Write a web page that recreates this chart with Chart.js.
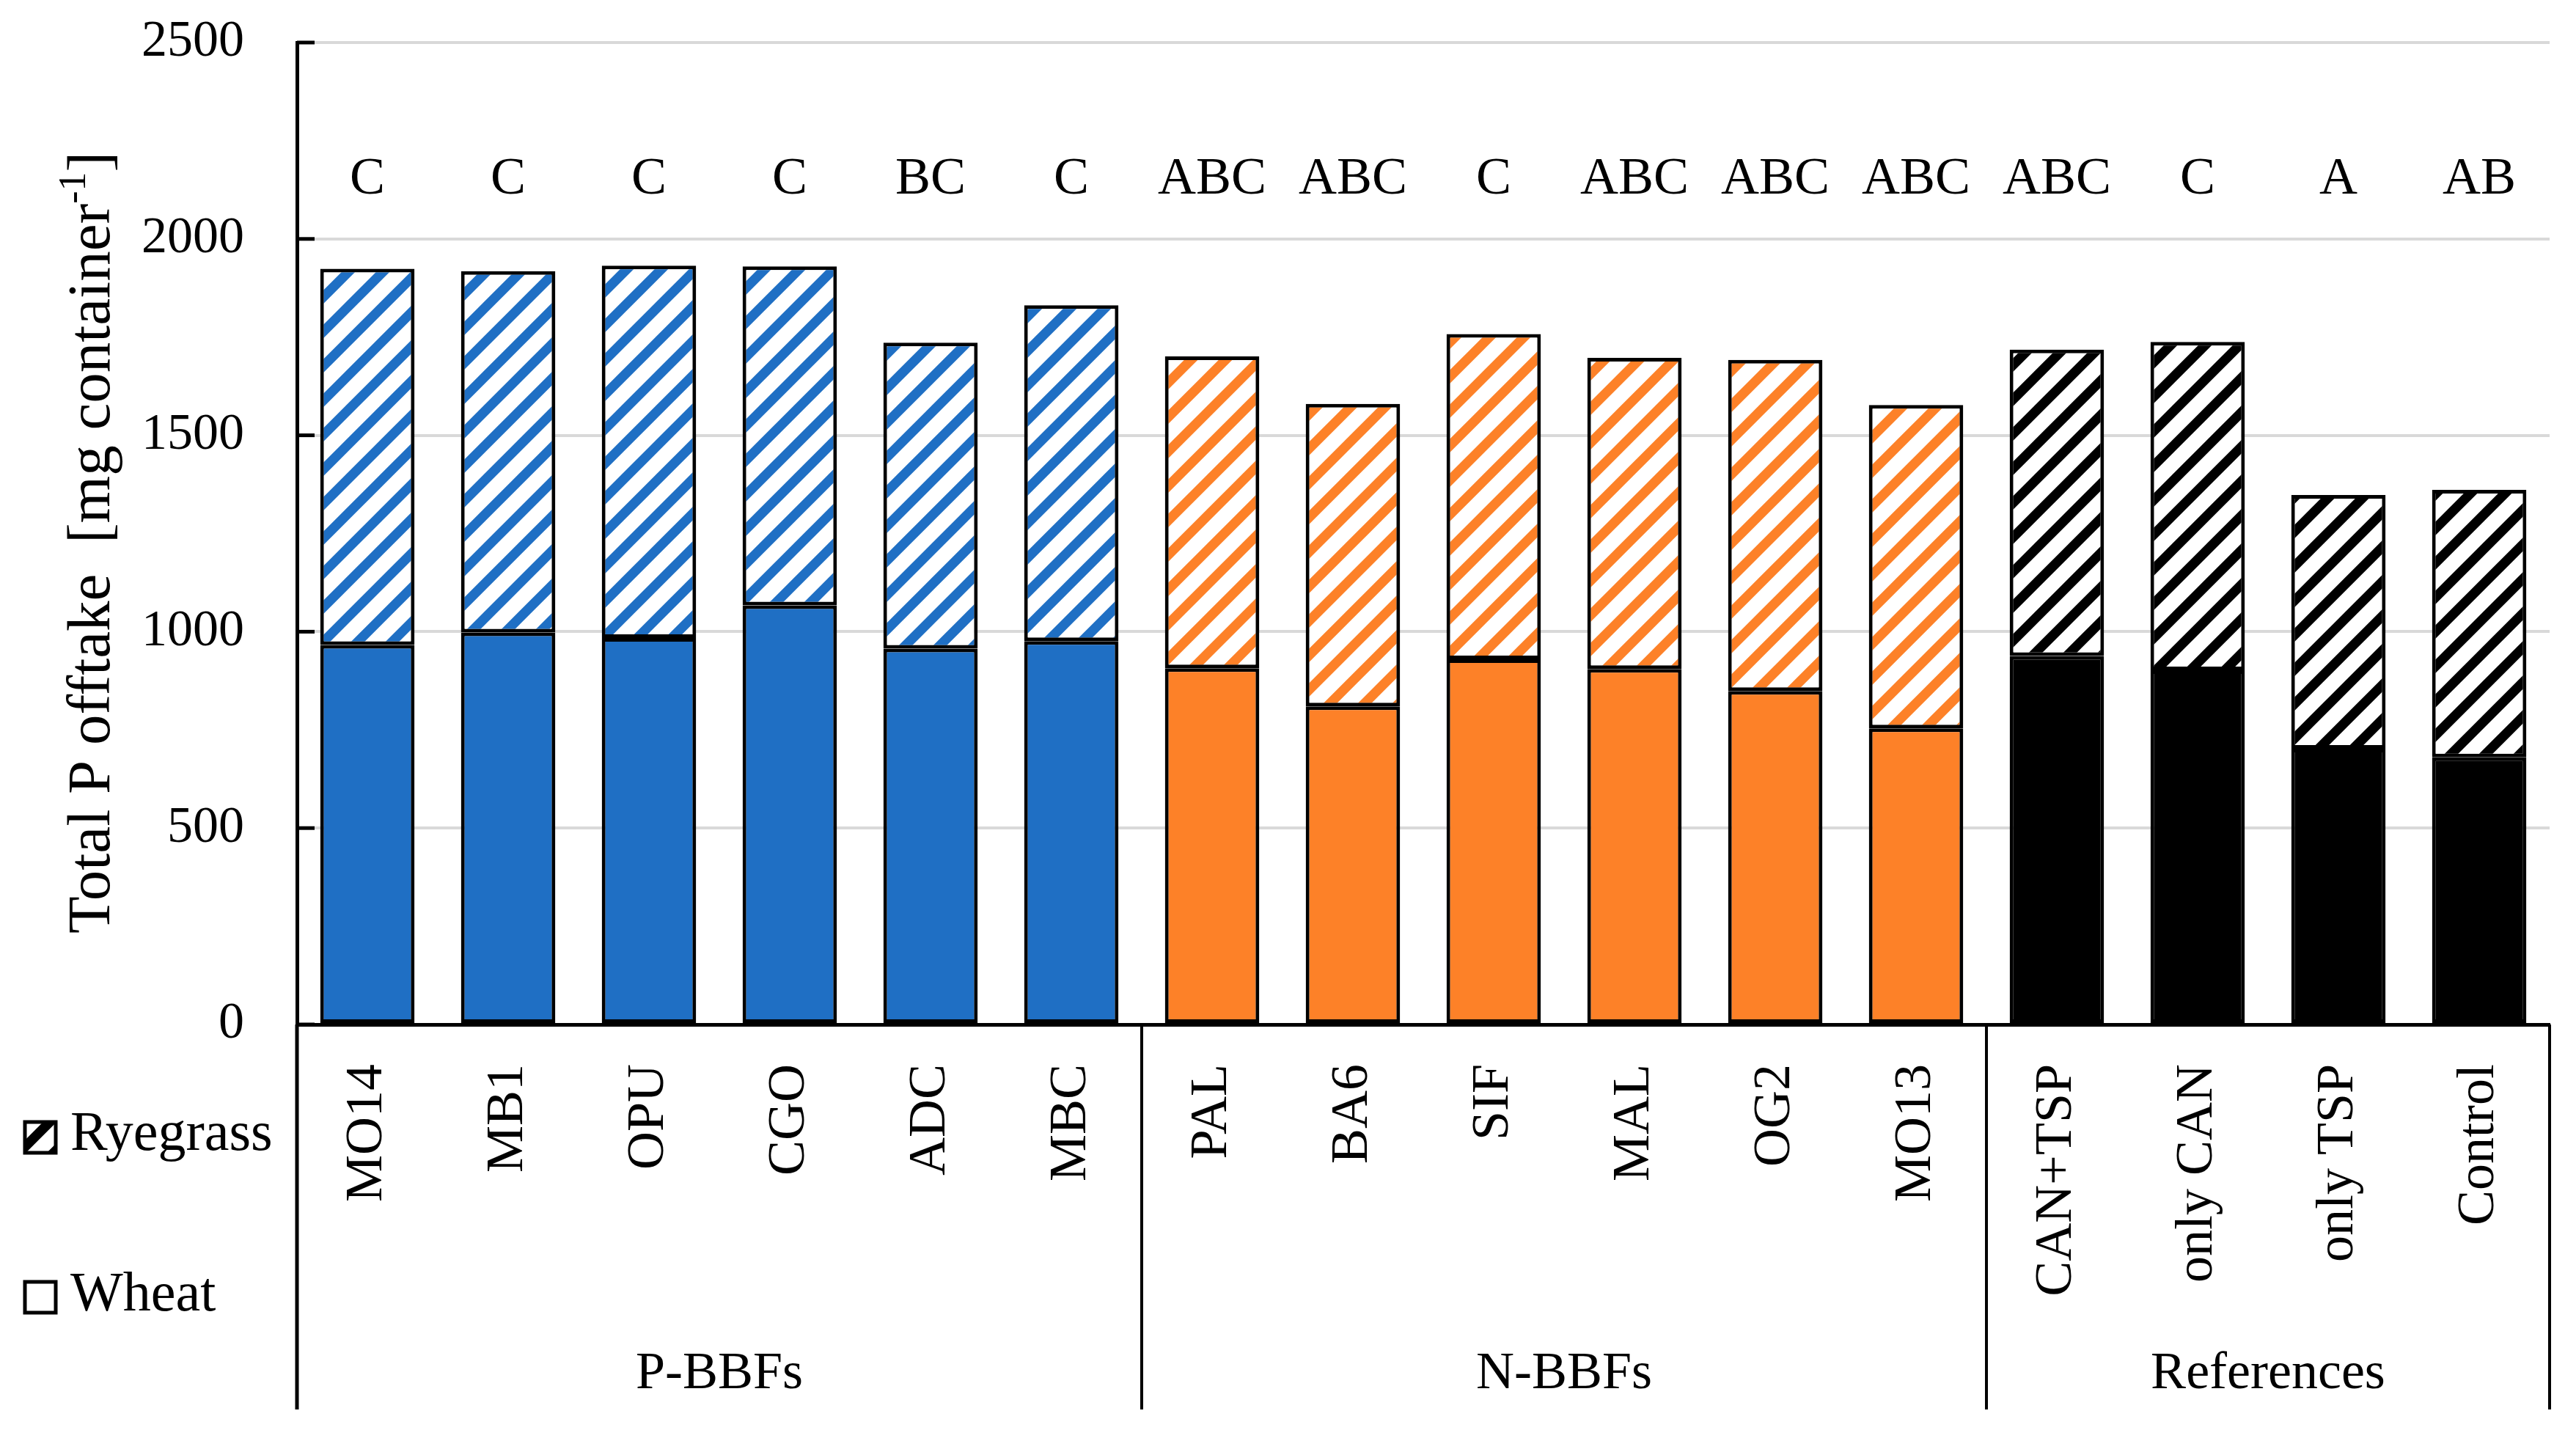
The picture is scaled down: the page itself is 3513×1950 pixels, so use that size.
<!DOCTYPE html>
<html>
<head>
<meta charset="utf-8">
<script src="https://cdn.jsdelivr.net/npm/chart.js@4.4.1/dist/chart.umd.min.js"></script>
<style>
  body { margin: 0; background: #fff; }
  #wrap { width: 3513px; height: 1950px; }
</style>
</head>
<body>
<div id="wrap"><canvas id="myChart" width="3513" height="1950"></canvas></div>
<script>
// data
const categories = ["MO14", "MB1", "OPU", "CGO", "ADC", "MBC", "PAL", "BA6", "SIF", "MAL", "OG2", "MO13", "CAN+TSP", "only CAN", "only TSP", "Control"];
const wheat = [966, 998, 984, 1067, 957, 976, 907, 810, 930, 905, 849, 754, 938, 902, 702, 680];
const ryegrass = [958, 920, 948, 863, 779, 855, 794, 770, 828, 792, 843, 823, 780, 836, 646, 681];
const letters = ["C", "C", "C", "C", "BC", "C", "ABC", "ABC", "C", "ABC", "ABC", "ABC", "ABC", "C", "A", "AB"];
const groups = ["P-BBFs", "N-BBFs", "References"];
const groupSizes = [6, 6, 4];
const yTicks = [0, 500, 1000, 1500, 2000, 2500];

const FONT = "'Liberation Serif', 'Times New Roman', serif";
const groupColors = ["#1f6fc4", "#fd8128", "#000000"];

const makeHatch = (color) => {
  const s = 47;
  const c = document.createElement("canvas");
  c.width = s;
  c.height = s;
  const g = c.getContext("2d");
  g.fillStyle = "#fff";
  g.fillRect(0, 0, s, s);
  g.strokeStyle = color;
  g.lineWidth = 13;
  g.beginPath();
  // lines run past the tile so the stripes join up without gaps
  for (let k = -1; k <= 1; k++) {
    g.moveTo(k * s - s, 2 * s);
    g.lineTo(k * s + 2 * s, -s);
  }
  g.stroke();
  return g.createPattern(c, "repeat");
};

const ctx = document.getElementById("myChart").getContext("2d");

// one colour per bar, from the group it belongs to
const solidColors = [];
const hatchColors = [];
groupSizes.forEach((n, gi) => {
  const hatch = makeHatch(groupColors[gi]);
  for (let i = 0; i < n; i++) {
    solidColors.push(groupColors[gi]);
    hatchColors.push(hatch);
  }
});

const decorations = {
  id: "decorations",
  afterDraw(chart) {
    const { ctx, chartArea, scales: { x, y } } = chart;
    const step = x.getPixelForValue(1) - x.getPixelForValue(0);
    const zeroY = y.getPixelForValue(0);
    const bottom = 1922;
    ctx.save();

    // tick marks on the inside of the y axis
    ctx.strokeStyle = "#000";
    ctx.lineWidth = 5;
    yTicks.forEach((v) => {
      const py = y.getPixelForValue(v);
      ctx.beginPath();
      ctx.moveTo(chartArea.left, py);
      ctx.lineTo(chartArea.left + 24, py);
      ctx.stroke();
    });

    // group separators below the axis
    const edges = [x.getPixelForValue(0) - step / 2];
    let count = 0;
    groupSizes.forEach((n) => {
      count += n;
      edges.push(x.getPixelForValue(count - 1) + step / 2);
    });
    edges.forEach((px, i) => {
      ctx.lineWidth = i === 0 ? 5 : 4;
      ctx.beginPath();
      ctx.moveTo(px, zeroY);
      ctx.lineTo(px, bottom);
      ctx.stroke();
    });

    // group names
    ctx.fillStyle = "#000";
    ctx.font = "72px " + FONT;
    ctx.textAlign = "center";
    ctx.textBaseline = "middle";
    groups.forEach((name, i) => {
      ctx.fillText(name, (edges[i] + edges[i + 1]) / 2, 1874);
    });

    // significance letters
    ctx.font = "72px " + FONT;
    letters.forEach((t, i) => {
      ctx.fillText(t, x.getPixelForValue(i), y.getPixelForValue(2150));
    });

    // legend
    ctx.textAlign = "left";
    ctx.font = "76px " + FONT;
    ctx.fillStyle = makeHatch("#000");
    ctx.fillRect(34, 1530, 42, 42);
    ctx.lineWidth = 5;
    ctx.strokeRect(34, 1530, 42, 42);
    ctx.strokeRect(34, 1748, 42, 42);
    ctx.fillStyle = "#000";
    ctx.fillText("Ryegrass", 96, 1548);
    ctx.fillText("Wheat", 96, 1767);

    // y axis title with superscript
    ctx.translate(127, 740);
    ctx.rotate(-Math.PI / 2);
    const main = "Total P offtake  [mg container";
    const sup = "-1";
    const end = "]";
    ctx.font = "83px " + FONT;
    const w1 = ctx.measureText(main).width;
    const w3 = ctx.measureText(end).width;
    ctx.font = "52px " + FONT;
    const w2 = ctx.measureText(sup).width;
    let sx = -(w1 + w2 + w3) / 2;
    ctx.font = "83px " + FONT;
    ctx.fillText(main, sx, 0);
    sx += w1;
    ctx.font = "52px " + FONT;
    ctx.fillText(sup, sx, -25);
    sx += w2;
    ctx.font = "83px " + FONT;
    ctx.fillText(end, sx, 0);

    ctx.restore();
  },
};

const myChart = new Chart(ctx, {
  type: "bar",
  data: {
    labels: categories,
    datasets: [
      {
        label: "Wheat",
        data: wheat,
        backgroundColor: solidColors,
        borderColor: "#000",
        borderWidth: 5,
        borderSkipped: false,
        barPercentage: 0.67,
        categoryPercentage: 1,
      },
      {
        label: "Ryegrass",
        data: ryegrass,
        backgroundColor: hatchColors,
        borderColor: "#000",
        borderWidth: 5,
        borderSkipped: false,
        barPercentage: 0.67,
        categoryPercentage: 1,
      },
    ],
  },
  options: {
    responsive: false,
    devicePixelRatio: 1,
    animation: false,
    layout: { padding: { top: 58, right: 36, left: 0, bottom: 0 } },
    plugins: {
      legend: { display: false },
      tooltip: { enabled: false },
    },
    scales: {
      x: {
        stacked: true,
        grid: { display: false },
        border: { color: "#000", width: 5 },
        ticks: {
          color: "#000",
          font: { family: FONT, size: 72 },
          minRotation: 90,
          maxRotation: 90,
          autoSkip: false,
          padding: 46,
        },
        afterFit: (scale) => {
          scale.height = 553;
          scale.paddingLeft = 0;
          scale.paddingRight = 0;
        },
      },
      y: {
        stacked: true,
        min: 0,
        max: 2500,
        grid: { color: "#d9d9d9", lineWidth: 4, drawTicks: false },
        border: { color: "#000", width: 5 },
        ticks: {
          stepSize: 500,
          color: "#000",
          font: { family: FONT, size: 70 },
          padding: 72,
          callback: (v) => String(v),
        },
        afterFit: (scale) => {
          scale.width = 405;
          scale.paddingTop = 0;
          scale.paddingBottom = 0;
        },
      },
    },
  },
  plugins: [decorations],
});
</script>
</body>
</html>
